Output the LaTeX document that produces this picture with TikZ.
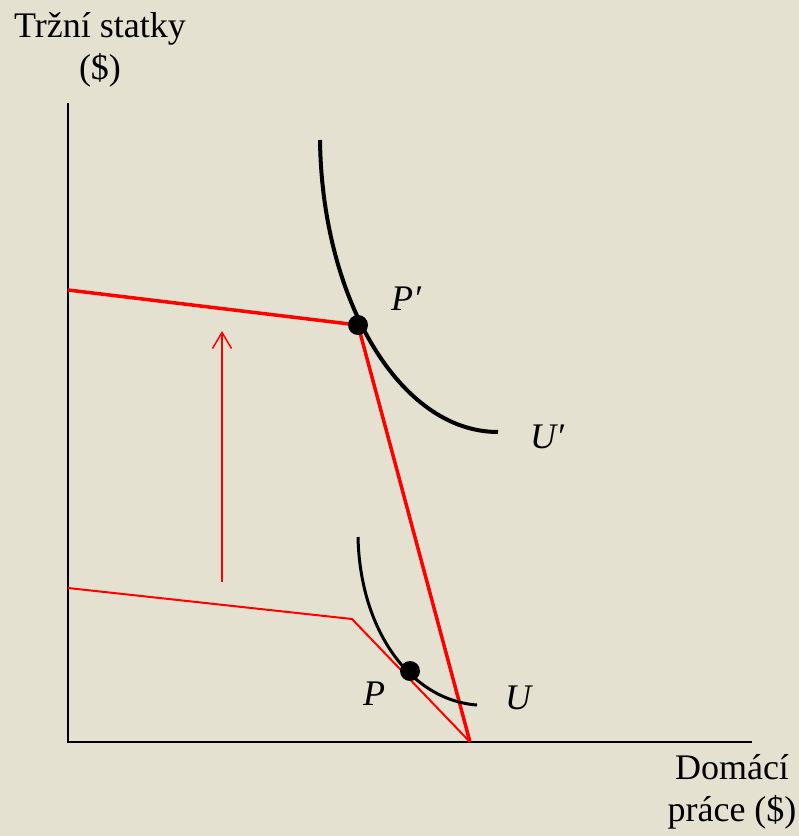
\documentclass[tikz,border=0pt]{standalone}
\usepackage{fontspec}
\setmainfont{Liberation Serif}
\usetikzlibrary{arrows.meta}
\definecolor{bg}{RGB}{229,225,209}
\tikzset{
  axis/.style={line width=2pt, black},
  budget/.style={line width=3.5pt, red},
  oldbudget/.style={line width=2pt, red},
  indiff/.style={line width=4pt, black},
  dot/.style={circle, fill=black, inner sep=0pt, minimum size=20pt},
  lbl/.style={font=\fontsize{36}{42}\selectfont\itshape, inner sep=0pt},
  axlbl/.style={font=\fontsize{36}{42}\selectfont, align=center, inner sep=0pt}
}
\begin{document}
\begin{tikzpicture}[x=1pt,y=-1pt]
\useasboundingbox (0,0) rectangle (799,836);
\fill[bg] (0,0) rectangle (799,836);
% coordinates
\coordinate (O) at (68,742);
\coordinate (Ytop) at (68,103);
\coordinate (Xend) at (752,742);
\coordinate (A1) at (68,290);
\coordinate (B) at (470,742);
\coordinate (A0) at (68,588);
\coordinate (K) at (352,619);
\coordinate (Ppr) at (358,325);
\coordinate (Pp) at (410,671);
\coordinate (Ubot) at (222,582);
\coordinate (Utop) at (222,331);
% axes
\draw[axis] (Ytop) -- (O) -- (Xend);
% budget lines
\draw[oldbudget, line join=miter] (A0) -- (K) -- (B);
\draw[budget, line join=round] (A1) -- (Ppr) -- (B);
% indifference curves
\draw[indiff] (320,140) .. controls (322,300) and (400,432) .. (498,432);
\draw[line width=3pt] (358,537) .. controls (360,630) and (410,700) .. (477,705);
% shift arrow
\draw[red, line width=1.5pt, -{Straight Barb[length=16pt,width=19pt,line width=1.5pt]}] (Ubot) -- (Utop);
% points
\node[dot] (Pdot) at (Pp) {};
\node[dot] (Pprdot) at (Ppr) {};
% labels
\node[lbl] (LPpr) at (406,299) {P′};
\node[lbl] (LUpr) at (547,437) {U′};
\node[lbl] (LP) at (374,694) {P};
\node[lbl] (LU) at (518,698) {U};
\node[axlbl] (ylab) at (100,50) {Tržní statky\\(\$)};
\node[axlbl] (xlab) at (732,792) {Domácí\\práce (\$)};
\end{tikzpicture}
\end{document}
